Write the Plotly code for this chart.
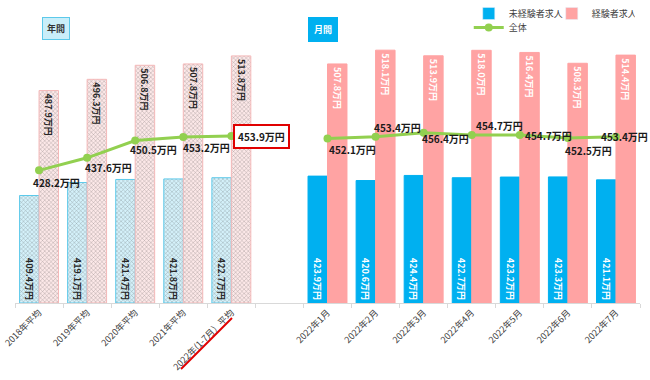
import plotly.graph_objects as go

categories = ["2018年平均", "2019年平均", "2020年平均", "2021年平均", "2022年(1-7月）平均", " ",
              "2022年1月", "2022年2月", "2022年3月", "2022年4月", "2022年5月", "2022年6月", "2022年7月"]
inexperienced = [409.4, 419.1, 421.4, 421.8, 422.7, None, 423.9, 420.6, 424.4, 422.7, 423.2, 423.3, 421.1]
experienced = [487.9, 496.3, 506.8, 507.8, 513.8, None, 507.8, 518.1, 513.9, 518.0, 516.4, 508.3, 514.4]
overall = [428.2, 437.6, 450.5, 453.2, 453.9, None, 452.1, 453.4, 456.4, 454.7, 454.7, 452.5, 453.4]
annual_count = 5

# label offsets (style only)
lab_dx = [17, 21, 18, 23, 30, None, 25, 22, 22, 28, 29, 21, 9]
lab_dy = [-12, -10, -9, -11, 0, None, -11, 9, -6, 9, -1, -13, 0]

BLUE = "#00B0F0"
PINK = "#FFA3A3"
GREEN = "#92D050"
FONT = "Noto Sans CJK JP"

TOP = 5
BOTTOM = 77
PLOT_H = 380 - TOP - BOTTOM
AXIS_MIN = 329
AXIS_MAX = AXIS_MIN + PLOT_H / 1.337


def fmt(v):
    return "" if v is None else f"{v:.1f}万円"


def py(pixel_y):
    return 1 - (pixel_y - TOP) / PLOT_H


def above_base(vals):
    return [None if v is None else v - AXIS_MIN for v in vals]


n = len(categories)
is_annual = [i < annual_count for i in range(n)]

fig = go.Figure()

fig.add_trace(go.Bar(
    x=categories, y=above_base(inexperienced), base=AXIS_MIN, name="未経験者求人", showlegend=False,
    offsetgroup="a",
    text=[fmt(v) for v in inexperienced], textposition="inside", insidetextanchor="start",
    textangle=90, constraintext="none",
    textfont=dict(family=FONT, size=9, weight="bold",
                  color=["#262626" if a else "white" for a in is_annual]),
    marker=dict(color=["#D4F1FA" if a else BLUE for a in is_annual],
                line=dict(color=["#5CC9EA" if a else BLUE for a in is_annual], width=1),
                pattern=dict(shape=["x" if a else "" for a in is_annual],
                             fgcolor="#9ADDF2", bgcolor="#E0F5FB", size=3, solidity=0.25)),
    hoverinfo="skip",
))
fig.add_trace(go.Bar(
    x=categories, y=above_base(experienced), base=AXIS_MIN, name="経験者求人", showlegend=False,
    offsetgroup="b",
    text=[fmt(v) for v in experienced], textposition="inside", insidetextanchor="end",
    textangle=90, constraintext="none",
    textfont=dict(family=FONT, size=9, weight="bold",
                  color=["#262626" if a else "white" for a in is_annual]),
    marker=dict(color=["#FCE8E8" if a else PINK for a in is_annual],
                line=dict(color=["#F4B8B8" if a else PINK for a in is_annual], width=1),
                pattern=dict(shape=["x" if a else "" for a in is_annual],
                             fgcolor="#F7CACA", bgcolor="#FDF1F1", size=3, solidity=0.25)),
    hoverinfo="skip",
))
# legend-only entries
fig.add_trace(go.Bar(x=[categories[0]], y=[None], name="未経験者求人", offsetgroup="a",
                     marker=dict(color=BLUE), legend="legend"))
fig.add_trace(go.Bar(x=[categories[0]], y=[None], name="経験者求人", offsetgroup="b",
                     marker=dict(color=PINK), legend="legend"))

fig.add_trace(go.Scatter(
    x=categories, y=overall, name="全体", mode="lines+markers", connectgaps=False,
    line=dict(color=GREEN, width=3), marker=dict(color=GREEN, size=8),
    legend="legend2", hoverinfo="skip",
))

for i, (c, v) in enumerate(zip(categories, overall)):
    if v is None:
        continue
    boxed = (i == annual_count - 1)
    fig.add_annotation(
        x=c, y=v, xref="x", yref="y", text=fmt(v), showarrow=False,
        xanchor="center", yanchor="middle",
        xshift=lab_dx[i], yshift=lab_dy[i],
        font=dict(family=FONT, size=10, color="#1a1a1a", weight="bold"),
        bordercolor="#E00000" if boxed else None, borderwidth=2 if boxed else 0,
        borderpad=3 if boxed else 0, bgcolor="white" if boxed else None,
    )

fig.add_annotation(x=0.066, y=py(28), xref="paper", yref="paper", text="年間", showarrow=False,
                   xanchor="center", yanchor="middle",
                   font=dict(family=FONT, size=9, color="#333333", weight="bold"),
                   bgcolor="#C9EEF9", bordercolor="#5CC9EA", borderwidth=1, borderpad=4)
fig.add_annotation(x=0.493, y=py(29), xref="paper", yref="paper", text="月間", showarrow=False,
                   xanchor="center", yanchor="middle",
                   font=dict(family=FONT, size=9, color="white", weight="bold"),
                   bgcolor=BLUE, bordercolor=BLUE, borderwidth=1, borderpad=5)

fig.add_shape(type="line", xref="paper", yref="paper", x0=0.2656, y0=py(369), x1=0.3472, y1=py(318),
              line=dict(color="#E00000", width=2))

fig.update_layout(
    width=650, height=380,
    margin=dict(l=15, r=10, t=TOP, b=BOTTOM, autoexpand=False),
    paper_bgcolor="white", plot_bgcolor="white",
    barmode="group", bargap=0.19, bargroupgap=0,
    font=dict(family=FONT, size=9, color="#404040"),
    legend=dict(orientation="h", x=0.726, xanchor="left", y=py(-1), yanchor="top",
                font=dict(size=9, color="#404040"), itemwidth=30, entrywidth=38,
                bgcolor="rgba(0,0,0,0)", tracegroupgap=0),
    legend2=dict(orientation="h", x=0.726, xanchor="left", y=py(13), yanchor="top",
                 font=dict(size=9, color="#404040"), itemwidth=30,
                 bgcolor="rgba(0,0,0,0)"),
    xaxis=dict(type="category", categoryorder="array", categoryarray=categories,
               range=[-0.5, n - 0.5], tickangle=-45, tickson="boundaries", ticks="outside",
               ticklen=4, tickcolor="#D9D9D9", showline=True, linecolor="#D9D9D9",
               showgrid=False, automargin=False,
               tickfont=dict(family=FONT, size=9, color="#404040")),
    yaxis=dict(range=[AXIS_MIN, AXIS_MAX], visible=False, showgrid=False, automargin=False),
)

fig.write_html("out.html", config={"displayModeBar": False},
               post_script="document.body.style.margin='0';")
